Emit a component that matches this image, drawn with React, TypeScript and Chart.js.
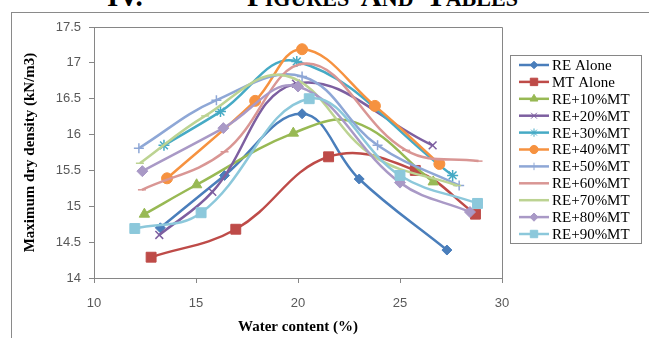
import React, { useEffect, useRef } from "react";
import { Chart, registerables } from "chart.js";
import { drawPoint } from "chart.js/helpers";

Chart.register(...registerables);

const seriesNames = [
  "RE Alone",
  "MT Alone",
  "RE+10%MT",
  "RE+20%MT",
  "RE+30%MT",
  "RE+40%MT",
  "RE+50%MT",
  "RE+60%MT",
  "RE+70%MT",
  "RE+80%MT",
  "RE+90%MT",
];

const reAloneX = [13.25, 16.4, 20.2, 23.0, 27.3];
const reAloneY = [14.7, 15.43, 16.29, 15.38, 14.39];
const mtAloneX = [12.8, 16.95, 21.5, 25.75, 28.7];
const mtAloneY = [14.29, 14.68, 15.69, 15.5, 14.89];
const re10X = [12.47, 15.03, 19.77, 22.8, 26.63];
const re10Y = [14.89, 15.3, 16.02, 16.17, 15.34];
const re20X = [13.2, 15.8, 19.9, 26.6];
const re20Y = [14.6, 15.2, 16.71, 15.85];
const re30X = [13.43, 16.2, 19.94, 27.58];
const re30Y = [15.85, 16.32, 17.02, 15.43];
const re40X = [13.58, 17.9, 20.2, 23.77, 26.93];
const re40Y = [15.39, 16.47, 17.19, 16.4, 15.59];
const re50X = [12.2, 16.0, 20.2, 23.9, 27.9];
const re50Y = [15.81, 16.48, 16.81, 15.85, 15.29];
const re60X = [12.35, 16.4, 20.4, 25.3, 28.85];
const re60Y = [15.23, 15.76, 16.99, 15.78, 15.63];
const re70X = [12.25, 15.45, 19.4, 23.7, 27.8];
const re70Y = [15.6, 16.26, 16.82, 15.7, 15.29];
const re80X = [12.37, 16.34, 20.0, 25.0, 28.43];
const re80Y = [15.49, 16.09, 16.67, 15.33, 14.92];
const re90X = [12.0, 15.25, 20.55, 25.0, 28.8];
const re90Y = [14.69, 14.91, 16.5, 15.43, 15.04];

const seriesX = [reAloneX, mtAloneX, re10X, re20X, re30X, re40X, re50X, re60X, re70X, re80X, re90X];
const seriesY = [reAloneY, mtAloneY, re10Y, re20Y, re30Y, re40Y, re50Y, re60Y, re70Y, re80Y, re90Y];

const xTicks = [10, 15, 20, 25, 30];
const xTickLabels = ["10", "15", "20", "25", "30"];
const yTicks = [14, 14.5, 15, 15.5, 16, 16.5, 17, 17.5];
const yTickLabels = ["14", "14.5", "15", "15.5", "16", "16.5", "17", "17.5"];

const colors = [
  "#4A7EBB",
  "#BE4B48",
  "#98B954",
  "#7D5FA0",
  "#46AAC5",
  "#F69240",
  "#8EA7D6",
  "#D99694",
  "#BCD392",
  "#A999C6",
  "#8CC8DB",
];
const markers = ["rectRot", "rect", "triangle", "crossRot", "star", "circle", "cross", "line", "line", "rectRot", "rect"];
const markerRadius = [5, 7, 6, 5.5, 5.5, 5.5, 5, 4, 4, 5.5, 7];

const AXIS_GRAY = "#868686";

const framePlugin = {
  id: "frame",
  beforeDatasetsDraw(chart: any) {
    const { ctx, chartArea } = chart;
    ctx.save();
    ctx.strokeStyle = AXIS_GRAY;
    ctx.lineWidth = 1;
    ctx.beginPath();
    ctx.moveTo(chartArea.left, Math.round(chartArea.top) + 0.5);
    ctx.lineTo(Math.round(chartArea.right) + 0.5, Math.round(chartArea.top) + 0.5);
    ctx.lineTo(Math.round(chartArea.right) + 0.5, chartArea.bottom);
    ctx.stroke();
    ctx.restore();
  },
};

const legendPlugin = {
  id: "boxLegend",
  afterDraw(chart: any) {
    const ctx = chart.ctx;
    ctx.save();
    ctx.strokeStyle = AXIS_GRAY;
    ctx.lineWidth = 1;
    ctx.strokeRect(510.5, 55.5, 131, 188);
    chart.data.datasets.forEach((ds: any, i: number) => {
      const y = 65 + i * 16.9;
      ctx.strokeStyle = ds.borderColor;
      ctx.lineWidth = 2.5;
      ctx.beginPath();
      ctx.moveTo(519, y);
      ctx.lineTo(549, y);
      ctx.stroke();
      ctx.fillStyle = ds.borderColor;
      ctx.strokeStyle = ds.borderColor;
      ctx.lineWidth = 1;
      if (ds.legendStyle !== "line") {
        drawPoint(
          ctx,
          { pointStyle: ds.legendStyle, radius: ds.legendRadius, borderWidth: 1, rotation: 0 } as any,
          534,
          y
        );
      }
      ctx.fillStyle = "#000";
      ctx.font = '15px "Liberation Serif"';
      ctx.textBaseline = "middle";
      ctx.textAlign = "left";
      ctx.fillText(ds.label, 552, y + 1);
    });
    ctx.restore();
  },
};

export default function App() {
  const canvasRef = useRef<HTMLCanvasElement | null>(null);

  useEffect(() => {
    if (!canvasRef.current) return;
    const datasets = seriesNames.map((name, i) => {
      const pts = seriesX[i].map((x, j) => ({ x, y: seriesY[i][j] }));
      const radii = pts.map((p, j) => (i === 2 && j === 3 ? 0 : markerRadius[i]));
      return {
        label: name,
        data: pts,
        borderColor: colors[i],
        backgroundColor: colors[i],
        pointBackgroundColor: colors[i],
        pointBorderColor: colors[i],
        pointStyle: markers[i],
        pointRadius: radii,
        pointBorderWidth: markers[i] === "crossRot" || markers[i] === "star" || markers[i] === "cross" || markers[i] === "line" ? 1.5 : 1,
        borderWidth: 2.5,
        tension: 0.4,
        fill: false,
        showLine: true,
        order: seriesNames.length - i,
        legendStyle: markers[i],
        legendRadius: markerRadius[i] * 0.75,
      };
    });

    const chart = new Chart(canvasRef.current, {
      type: "scatter",
      data: { datasets } as any,
      options: {
        responsive: false,
        animation: false,
        devicePixelRatio: 1,
        layout: { padding: { top: 27, right: 147, left: 0, bottom: 0 } },
        plugins: {
          legend: { display: false },
          tooltip: { enabled: false },
        },
        scales: {
          x: {
            type: "linear",
            min: 10,
            max: 30,
            afterBuildTicks: (s: any) => {
              s.ticks = xTicks.map((v) => ({ value: v }));
            },
            afterFit: (s: any) => {
              s.height = 60;
            },
            ticks: {
              callback: (_v: any, idx: number) => xTickLabels[idx],
              font: { family: '"Liberation Sans"', size: 13 },
              color: "#595959",
              padding: 13,
              maxRotation: 0,
              autoSkip: false,
            },
            grid: { drawOnChartArea: false, tickLength: 5, color: AXIS_GRAY },
            border: { color: AXIS_GRAY },
            title: {
              display: true,
              text: "Water content (%)",
              font: { family: '"Liberation Serif"', size: 15, weight: "bold" },
              color: "#000",
              padding: { top: 0, bottom: 2 },
            },
          },
          y: {
            type: "linear",
            min: 14,
            max: 17.5,
            afterBuildTicks: (s: any) => {
              s.ticks = yTicks.map((v) => ({ value: v }));
            },
            afterFit: (s: any) => {
              s.width = 94;
            },
            ticks: {
              callback: (_v: any, idx: number) => yTickLabels[idx],
              font: { family: '"Liberation Sans"', size: 13 },
              color: "#595959",
              padding: 8,
              autoSkip: false,
            },
            grid: { drawOnChartArea: false, tickLength: 5, color: AXIS_GRAY },
            border: { color: AXIS_GRAY },
            title: {
              display: true,
              text: "Maximum dry density (kN/m3)",
              font: { family: '"Liberation Serif"', size: 15, weight: "bold" },
              color: "#000",
              padding: { top: 21, bottom: 0 },
            },
          },
        },
      } as any,
      plugins: [framePlugin, legendPlugin],
    });
    return () => chart.destroy();
  }, []);

  const head: React.CSSProperties = {
    position: "absolute",
    top: -18,
    font: 'bold 29px "Liberation Serif"',
    lineHeight: "29px",
    whiteSpace: "nowrap",
    color: "#000",
  };
  const sc: React.CSSProperties = { fontSize: "0.76em" };

  return (
    <div
      style={{
        position: "fixed",
        left: 0,
        top: 0,
        width: 649,
        height: 338,
        overflow: "hidden",
        background: "#fff",
      }}
    >
      <div style={{ ...head, left: 107 }}>IV.</div>
      <div style={{ ...head, left: 247, wordSpacing: "6px" }}>
        F<span style={sc}>IGURES</span> A<span style={sc}>ND</span> T<span style={sc}>ABLES</span>
      </div>
      <div
        style={{
          position: "absolute",
          left: 11,
          top: 12,
          width: 700,
          height: 400,
          border: "1px solid #8a8a8a",
        }}
      />
      <canvas
        ref={canvasRef}
        width={649}
        height={338}
        style={{ position: "absolute", left: 0, top: 0, width: 649, height: 338 }}
      />
    </div>
  );
}
